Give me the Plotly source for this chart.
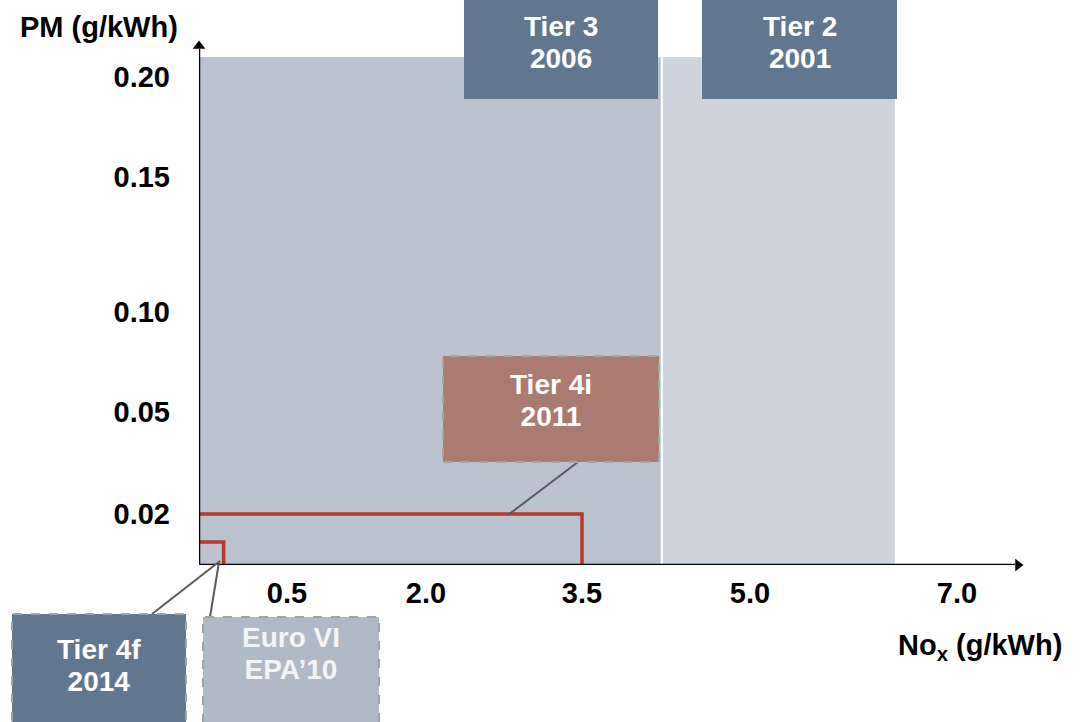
import numpy as np
import plotly.graph_objects as go

W, H = 1081, 722

# ---- data ----
NOX_TICKS = [0.5, 2.0, 3.5, 5.0, 7.0]
NOX_TICK_TEXT = ["0.5", "2.0", "3.5", "5.0", "7.0"]
PM_TICKS = [0.02, 0.05, 0.10, 0.15, 0.20]
PM_TICK_TEXT = ["0.02", "0.05", "0.10", "0.15", "0.20"]

STANDARDS = ["Tier 2", "Tier 3", "Tier 4i", "Tier 4f"]
YEARS = ["2001", "2006", "2011", "2014"]
NOX_LIMIT = [6.4, 4.2, 3.5, 0.14]
PM_LIMIT = [0.21, 0.21, 0.02, 0.009]

# ---- non-linear axis scale (value -> axis position) ----
NOX_SCALE_VAL = [0, 0.5, 2.0, 3.5, 5.0, 7.0, 8.0]
NOX_SCALE_POS = [0, 88, 227, 383, 551, 758, 862]
PM_SCALE_VAL = [0, 0.02, 0.05, 0.10, 0.15, 0.20, 0.25]
PM_SCALE_POS = [0, 51, 153, 253, 388, 488, 588]


def sx(v):
    return np.interp(v, NOX_SCALE_VAL, NOX_SCALE_POS)


def sy(v):
    return np.interp(v, PM_SCALE_VAL, PM_SCALE_POS)


def P(x):
    return x / W


def Q(y):
    return 1 - y / H


FONT = "Liberation Sans"
FS = 29
BOX_FS = 28
fig = go.Figure()

# regions (Tier 2 then Tier 3)
fills = {"Tier 2": "#cdd4dd", "Tier 3": "#bac2d0"}
for i in (0, 1):
    xr, yr = sx(NOX_LIMIT[i]), sy(PM_LIMIT[i])
    fig.add_trace(go.Scatter(x=[0, xr, xr, 0, 0], y=[0, 0, yr, yr, 0], fill="toself",
                             fillcolor=fills[STANDARDS[i]], mode="lines",
                             line=dict(width=0, color=fills[STANDARDS[i]]),
                             hoverinfo="skip", showlegend=False))
# white separator at Tier 3 limit
x3 = sx(NOX_LIMIT[1]) + 1.5
fig.add_trace(go.Scatter(x=[x3, x3], y=[0, sy(PM_LIMIT[1])], mode="lines",
                         line=dict(color="white", width=2), hoverinfo="skip", showlegend=False))

# Tier 4i / 4f outlines
for i in (2, 3):
    xr, yr = sx(NOX_LIMIT[i]), sy(PM_LIMIT[i])
    fig.add_trace(go.Scatter(x=[0, xr, xr], y=[yr, yr, 0], mode="lines",
                             line=dict(color="#b5382a", width=3.5),
                             hoverinfo="skip", showlegend=False))

# arrowheads at the end of the axes
fig.add_trace(go.Scatter(x=[819], y=[0], mode="markers", cliponaxis=False,
                         marker=dict(symbol="triangle-right", size=11, color="black"),
                         hoverinfo="skip", showlegend=False))
fig.add_trace(go.Scatter(x=[0], y=[519], mode="markers", cliponaxis=False,
                         marker=dict(symbol="triangle-up", size=11, color="black"),
                         hoverinfo="skip", showlegend=False))

shapes = []
annotations = []

# axis lines
shapes.append(dict(type="line", xref="x", yref="y", x0=-2, y0=0, x1=816, y1=0,
                   line=dict(color="black", width=2.5), layer="above"))
shapes.append(dict(type="line", xref="x", yref="y", x0=0, y0=-2, x1=0, y1=516,
                   line=dict(color="black", width=2.5), layer="above"))

LEAD = 24.3  # base size that sets the line spacing of the box labels


def label_box(x0, y0, x1, y1, fill, lines, yc, color="white", dashed=False):
    shapes.append(dict(type="rect", xref="paper", yref="paper",
                       x0=P(x0), x1=P(x1), y0=Q(y1), y1=Q(y0),
                       fillcolor=fill,
                       line=dict(color="#a3a3a3", width=2, dash="dash") if dashed else dict(width=0),
                       layer="above"))
    txt = "<br>".join(f"<span style='font-size:{BOX_FS}px'>{t}</span>" for t in lines)
    annotations.append(dict(xref="paper", yref="paper", x=P((x0 + x1) / 2), y=Q(yc),
                            text=txt, showarrow=False, xanchor="center", yanchor="middle",
                            font=dict(family=FONT, size=LEAD, color=color, weight="bold")))


def leader(xa, ya, xb, yb):
    shapes.append(dict(type="line", xref="paper", yref="paper",
                       x0=P(xa), y0=Q(ya), x1=P(xb), y1=Q(yb),
                       line=dict(color="#5a5a5a", width=2), layer="above"))


# leader lines
leader(578, 462, 508, 515)
leader(152, 614, 220, 561)
leader(210, 617, 219, 562)

label_box(464, -4, 658, 99, "#61778f", [STANDARDS[1], YEARS[1]], 43)
label_box(702, -4, 897, 99, "#61778f", [STANDARDS[0], YEARS[0]], 43)
label_box(443, 356, 659, 462, "#ab7a70", [STANDARDS[2], YEARS[2]], 400, dashed=True)
label_box(12, 614, 186, 726, "#61778f", [STANDARDS[3], YEARS[3]], 665, dashed=True)
label_box(203, 617, 379, 726, "#b0b9c6", ["Euro VI", "EPA\u201910"], 653,
          color="#f3f4f6", dashed=True)

# axis titles
annotations.append(dict(xref="paper", yref="paper", x=P(99), y=Q(27), text="PM (g/kWh)",
                        showarrow=False, xanchor="center", yanchor="middle",
                        font=dict(family=FONT, size=FS, color="black", weight="bold")))
annotations.append(dict(xref="paper", yref="paper", x=P(980), y=Q(647),
                        text="No<sub>x</sub> (g/kWh)",
                        showarrow=False, xanchor="center", yanchor="middle",
                        font=dict(family=FONT, size=FS, color="black", weight="bold")))

fig.update_layout(
    width=W, height=H, autosize=False,
    margin=dict(l=0, r=0, t=0, b=0),
    paper_bgcolor="white", plot_bgcolor="white",
    shapes=shapes, annotations=annotations,
    xaxis=dict(domain=[199 / W, 1], range=[0, 882], showgrid=False, zeroline=False,
               showline=False, tickmode="array", tickvals=list(sx(NOX_TICKS)),
               ticktext=NOX_TICK_TEXT, ticks="", ticklabelstandoff=8,
               tickfont=dict(family=FONT, size=FS, color="black", weight="bold"),
               fixedrange=True),
    yaxis=dict(domain=[157 / H, 1], range=[0, 565], showgrid=False, zeroline=False,
               showline=False, tickmode="array", tickvals=list(sy(PM_TICKS)),
               ticktext=PM_TICK_TEXT, ticks="", ticklabelstandoff=28,
               tickfont=dict(family=FONT, size=FS, color="black", weight="bold"),
               fixedrange=True),
    showlegend=False,
)

fig.write_html("out.html", config={"displayModeBar": False},
               post_script="document.body.style.margin='0';")
